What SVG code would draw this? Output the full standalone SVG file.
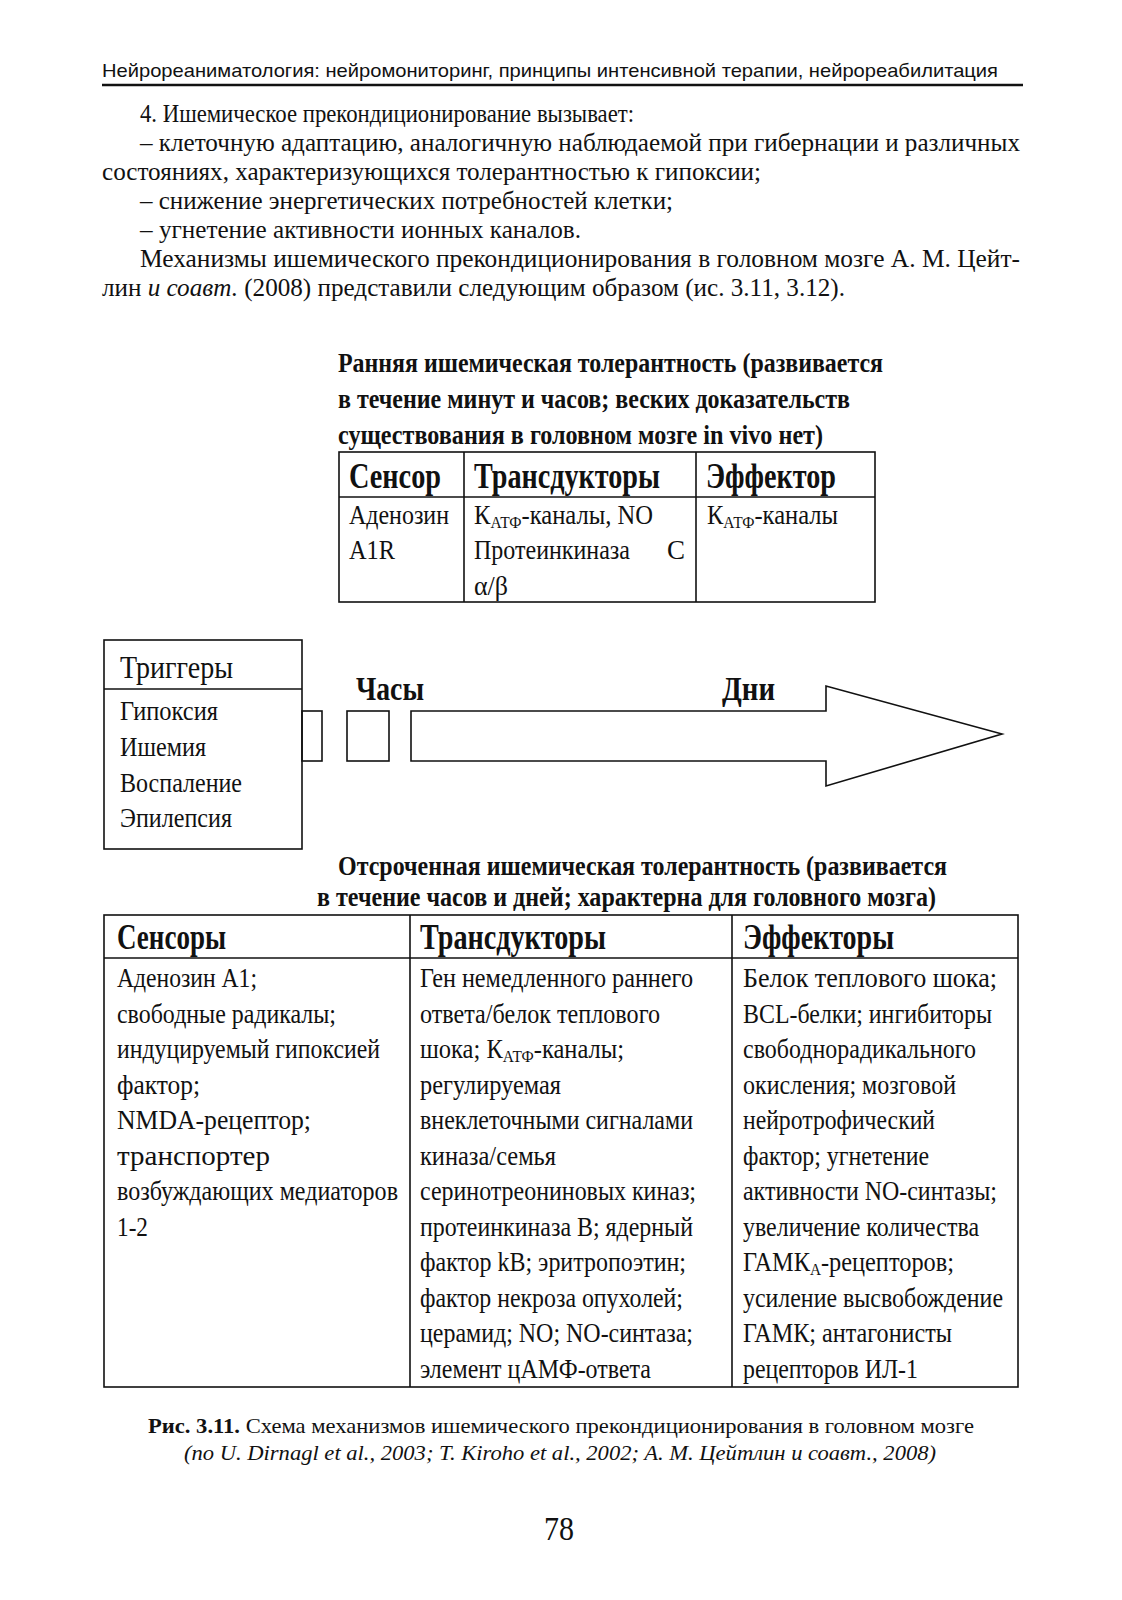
<svg xmlns="http://www.w3.org/2000/svg" width="1122" height="1600" viewBox="0 0 1122 1600">
<style>
.hd{font-family:"Liberation Sans",Arial,sans-serif;font-size:19px;fill:#111}
.b{font-family:"Liberation Serif","Times New Roman",serif;font-size:25px;fill:#111}
.t{font-family:"Liberation Serif","Times New Roman",serif;font-size:27px;fill:#111}
.tb{font-family:"Liberation Serif","Times New Roman",serif;font-size:27px;font-weight:bold;fill:#111}
.th{font-family:"Liberation Serif","Times New Roman",serif;font-size:36px;font-weight:bold;fill:#111}
.cap{font-family:"Liberation Serif","Times New Roman",serif;font-size:22px;fill:#111}
.ln{fill:none;stroke:#111;stroke-width:1.6}
.sub{font-size:17px}
</style>
<rect width="1122" height="1600" fill="#fff"/>

<g id="page-text">
<text class="hd" x="102" y="77" textLength="896" lengthAdjust="spacingAndGlyphs">Нейрореаниматология: нейромониторинг, принципы интенсивной терапии, нейрореабилитация</text>
<line x1="102" y1="85" x2="1023" y2="85" stroke="#111" stroke-width="2.5"/>
<text class="b" x="140" y="122" textLength="494" lengthAdjust="spacingAndGlyphs">4. Ишемическое прекондиционирование вызывает:</text>
<text class="b" x="140" y="151" textLength="880" lengthAdjust="spacingAndGlyphs">– клеточную адаптацию, аналогичную наблюдаемой при гибернации и различных</text>
<text class="b" x="102" y="180" textLength="659" lengthAdjust="spacingAndGlyphs">состояниях, характеризующихся толерантностью к гипоксии;</text>
<text class="b" x="140" y="209" textLength="533" lengthAdjust="spacingAndGlyphs">– снижение энергетических потребностей клетки;</text>
<text class="b" x="140" y="238" textLength="441" lengthAdjust="spacingAndGlyphs">– угнетение активности ионных каналов.</text>
<text class="b" x="140" y="267" textLength="880" lengthAdjust="spacingAndGlyphs">Механизмы ишемического прекондиционирования в головном мозге А. М. Цейт-</text>
<text class="b" x="102" y="296" textLength="743" lengthAdjust="spacingAndGlyphs">лин <tspan font-style="italic">и соавт.</tspan> (2008) представили следующим образом (ис. 3.11, 3.12).</text>
</g>

<g id="early-title">
<text class="tb" x="338" y="372" textLength="545" lengthAdjust="spacingAndGlyphs">Ранняя ишемическая толерантность (развивается</text>
<text class="tb" x="338" y="408" textLength="512" lengthAdjust="spacingAndGlyphs">в течение минут и часов; веских доказательств</text>
<text class="tb" x="338" y="444" textLength="485" lengthAdjust="spacingAndGlyphs">существования в головном мозге in vivo нет)</text>
</g>

<g id="early-table">
<rect class="ln" x="339" y="452" width="536" height="150"/>
<line class="ln" x1="339" y1="497" x2="875" y2="497"/>
<line class="ln" x1="464" y1="452" x2="464" y2="602"/>
<line class="ln" x1="696" y1="452" x2="696" y2="602"/>
<text class="th" x="349" y="488" textLength="92" lengthAdjust="spacingAndGlyphs">Сенсор</text>
<text class="th" x="474" y="488" textLength="186" lengthAdjust="spacingAndGlyphs">Трансдукторы</text>
<text class="th" x="706" y="488" textLength="130" lengthAdjust="spacingAndGlyphs">Эффектор</text>
<text class="t" x="349" y="524" textLength="100" lengthAdjust="spacingAndGlyphs">Аденозин</text>
<text class="t" x="349" y="559" textLength="46" lengthAdjust="spacingAndGlyphs">A1R</text>
<text class="t" x="474" y="524" textLength="179" lengthAdjust="spacingAndGlyphs">К<tspan class="sub" dy="4">АТФ</tspan><tspan dy="-4">-каналы, NO</tspan></text>
<text class="t" x="474" y="559" textLength="156" lengthAdjust="spacingAndGlyphs">Протеинкиназа</text>
<text class="t" x="667" y="559" textLength="18" lengthAdjust="spacingAndGlyphs">С</text>
<text class="t" x="474" y="595" textLength="34" lengthAdjust="spacingAndGlyphs">α/β</text>
<text class="t" x="707" y="524" textLength="131" lengthAdjust="spacingAndGlyphs">К<tspan class="sub" dy="4">АТФ</tspan><tspan dy="-4">-каналы</tspan></text>
</g>

<g id="triggers">
<rect class="ln" x="104" y="640" width="198" height="209"/>
<line class="ln" x1="104" y1="689" x2="302" y2="689"/>
<text class="t" x="120" y="678" style="font-size:32px" textLength="113" lengthAdjust="spacingAndGlyphs">Триггеры</text>
<text class="t" x="120" y="720" style="font-size:28px" textLength="98" lengthAdjust="spacingAndGlyphs">Гипоксия</text>
<text class="t" x="120" y="756" style="font-size:28px" textLength="86" lengthAdjust="spacingAndGlyphs">Ишемия</text>
<text class="t" x="120" y="792" style="font-size:28px" textLength="122" lengthAdjust="spacingAndGlyphs">Воспаление</text>
<text class="t" x="120" y="827" style="font-size:28px" textLength="112" lengthAdjust="spacingAndGlyphs">Эпилепсия</text>
</g>

<g id="timeline">
<rect class="ln" x="302" y="711" width="20" height="50"/>
<rect class="ln" x="347" y="711" width="42" height="50"/>
<path class="ln" d="M411 711 L411 761 L826 761 L826 786 L1002 734 L826 686 L826 711 Z"/>
<text class="th" x="356" y="700" style="font-size:33px" textLength="68" lengthAdjust="spacingAndGlyphs">Часы</text>
<text class="th" x="722" y="700" style="font-size:33px" textLength="53" lengthAdjust="spacingAndGlyphs">Дни</text>
</g>

<g id="delayed-title">
<text class="tb" x="338" y="875" textLength="609" lengthAdjust="spacingAndGlyphs">Отсроченная ишемическая толерантность (развивается</text>
<text class="tb" x="317" y="906" textLength="619" lengthAdjust="spacingAndGlyphs">в течение часов и дней; характерна для головного мозга)</text>
</g>

<g id="delayed-table">
<rect class="ln" x="104" y="915" width="914" height="472"/>
<line class="ln" x1="104" y1="958" x2="1018" y2="958"/>
<line class="ln" x1="410" y1="915" x2="410" y2="1387"/>
<line class="ln" x1="732" y1="915" x2="732" y2="1387"/>
<text class="th" x="117" y="949" style="font-size:35px" textLength="109" lengthAdjust="spacingAndGlyphs">Сенсоры</text>
<text class="th" x="420" y="949" style="font-size:35px" textLength="186" lengthAdjust="spacingAndGlyphs">Трансдукторы</text>
<text class="th" x="743" y="949" style="font-size:35px" textLength="151" lengthAdjust="spacingAndGlyphs">Эффекторы</text>

<text class="t" x="117" y="987" textLength="140" lengthAdjust="spacingAndGlyphs">Аденозин A1;</text>
<text class="t" x="117" y="1022.5" textLength="219" lengthAdjust="spacingAndGlyphs">свободные радикалы;</text>
<text class="t" x="117" y="1058" textLength="263" lengthAdjust="spacingAndGlyphs">индуцируемый гипоксией</text>
<text class="t" x="117" y="1093.5" textLength="83" lengthAdjust="spacingAndGlyphs">фактор;</text>
<text class="t" x="117" y="1129" textLength="194" lengthAdjust="spacingAndGlyphs">NMDA-рецептор;</text>
<text class="t" x="117" y="1164.5" textLength="153" lengthAdjust="spacingAndGlyphs">транспортер</text>
<text class="t" x="117" y="1200" textLength="281" lengthAdjust="spacingAndGlyphs">возбуждающих медиаторов</text>
<text class="t" x="117" y="1235.5" textLength="31" lengthAdjust="spacingAndGlyphs">1-2</text>

<text class="t" x="420" y="987" textLength="273" lengthAdjust="spacingAndGlyphs">Ген немедленного раннего</text>
<text class="t" x="420" y="1022.5" textLength="240" lengthAdjust="spacingAndGlyphs">ответа/белок теплового</text>
<text class="t" x="420" y="1058" textLength="204" lengthAdjust="spacingAndGlyphs">шока; К<tspan class="sub" dy="4">АТФ</tspan><tspan dy="-4">-каналы;</tspan></text>
<text class="t" x="420" y="1093.5" textLength="141" lengthAdjust="spacingAndGlyphs">регулируемая</text>
<text class="t" x="420" y="1129" textLength="273" lengthAdjust="spacingAndGlyphs">внеклеточными сигналами</text>
<text class="t" x="420" y="1164.5" textLength="136" lengthAdjust="spacingAndGlyphs">киназа/семья</text>
<text class="t" x="420" y="1200" textLength="276" lengthAdjust="spacingAndGlyphs">серинотреониновых киназ;</text>
<text class="t" x="420" y="1235.5" textLength="273" lengthAdjust="spacingAndGlyphs">протеинкиназа B; ядерный</text>
<text class="t" x="420" y="1271" textLength="266" lengthAdjust="spacingAndGlyphs">фактор kB; эритропоэтин;</text>
<text class="t" x="420" y="1306.5" textLength="263" lengthAdjust="spacingAndGlyphs">фактор некроза опухолей;</text>
<text class="t" x="420" y="1342" textLength="273" lengthAdjust="spacingAndGlyphs">церамид; NO; NO-синтаза;</text>
<text class="t" x="420" y="1377.5" textLength="231" lengthAdjust="spacingAndGlyphs">элемент цАМФ-ответа</text>

<text class="t" x="743" y="987" textLength="254" lengthAdjust="spacingAndGlyphs">Белок теплового шока;</text>
<text class="t" x="743" y="1022.5" textLength="249" lengthAdjust="spacingAndGlyphs">BCL-белки; ингибиторы</text>
<text class="t" x="743" y="1058" textLength="233" lengthAdjust="spacingAndGlyphs">свободнорадикального</text>
<text class="t" x="743" y="1093.5" textLength="213" lengthAdjust="spacingAndGlyphs">окисления; мозговой</text>
<text class="t" x="743" y="1129" textLength="192" lengthAdjust="spacingAndGlyphs">нейротрофический</text>
<text class="t" x="743" y="1164.5" textLength="186" lengthAdjust="spacingAndGlyphs">фактор; угнетение</text>
<text class="t" x="743" y="1200" textLength="254" lengthAdjust="spacingAndGlyphs">активности NO-синтазы;</text>
<text class="t" x="743" y="1235.5" textLength="236" lengthAdjust="spacingAndGlyphs">увеличение количества</text>
<text class="t" x="743" y="1271" textLength="211" lengthAdjust="spacingAndGlyphs">ГАМК<tspan class="sub" dy="4">А</tspan><tspan dy="-4">-рецепторов;</tspan></text>
<text class="t" x="743" y="1306.5" textLength="260" lengthAdjust="spacingAndGlyphs">усиление высвобождение</text>
<text class="t" x="743" y="1342" textLength="209" lengthAdjust="spacingAndGlyphs">ГАМК; антагонисты</text>
<text class="t" x="743" y="1377.5" textLength="175" lengthAdjust="spacingAndGlyphs">рецепторов ИЛ-1</text>
</g>

<g id="caption">
<text class="cap" x="148" y="1433" textLength="826" lengthAdjust="spacingAndGlyphs"><tspan font-weight="bold">Рис. 3.11.</tspan> Схема механизмов ишемического прекондиционирования в головном мозге</text>
<text class="cap" x="184" y="1460" font-style="italic" textLength="752" lengthAdjust="spacingAndGlyphs">(по U. Dirnagl et al., 2003; T. Kiroho et al., 2002; A. M. Цейтлин и соавт., 2008)</text>
<text class="cap" x="544" y="1540" style="font-size:34px" textLength="30" lengthAdjust="spacingAndGlyphs">78</text>
</g>
</svg>
